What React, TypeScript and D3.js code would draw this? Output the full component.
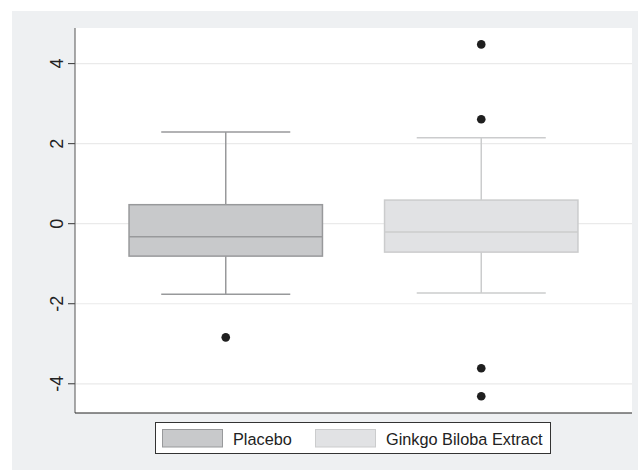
import React from "react";
import * as d3 from "d3";

const categories = ["Placebo", "Ginkgo Biloba Extract"];
const q1 = [-0.81, -0.71];
const medians = [-0.325, -0.21];
const q3 = [0.475, 0.59];
const whiskerLow = [-1.76, -1.73];
const whiskerHigh = [2.29, 2.15];
const outliers = [[-2.84], [4.48, 2.61, -3.61, -4.31]];
const yTicks = [-4, -2, 0, 2, 4];

const fills = ["#c8c9cb", "#e1e2e4"];
const strokes = ["#98999b", "#cbcccd"];

const W = 638, H = 470;
const left = 75, right = 632, top = 28, bottom = 413;

export default function App() {
  const y = d3.scaleLinear().domain([-4.73, 4.89]).range([bottom, top]);
  const x = d3.scalePoint<string>().domain(categories).range([left, right]).padding(0.59);
  const step = x.step();
  const boxW = step * 0.757;
  const capW = step * 0.505;
  const font = "'Liberation Sans', Arial, sans-serif";

  return (
    <svg width={W} height={H} style={{ position: "absolute", left: 0, top: 0 }}>
      <rect x={12} y={11} width={W - 12} height={H - 11} fill="#eef0f2" />
      <rect x={left} y={top} width={right - left} height={bottom - top} fill="#ffffff" />
      {yTicks.map((t) => (
        <g key={t}>
          <line x1={left} x2={right} y1={y(t)} y2={y(t)} stroke="#eaeaea" strokeWidth={1.2} />
          <line x1={68} x2={left} y1={y(t)} y2={y(t)} stroke="#333" strokeWidth={1} />
          <text
            transform={`translate(63,${y(t)}) rotate(-90)`}
            textAnchor="middle"
            fontFamily={font}
            fontSize={18}
            fill="#222"
          >
            {t}
          </text>
        </g>
      ))}
      {categories.map((c, i) => {
        const cx = x(c)!;
        return (
          <g key={c}>
            <line x1={cx} x2={cx} y1={y(q3[i])} y2={y(whiskerHigh[i])} stroke={strokes[i]} strokeWidth={1.5} />
            <line x1={cx} x2={cx} y1={y(q1[i])} y2={y(whiskerLow[i])} stroke={strokes[i]} strokeWidth={1.5} />
            <line x1={cx - capW / 2} x2={cx + capW / 2} y1={y(whiskerHigh[i])} y2={y(whiskerHigh[i])} stroke={strokes[i]} strokeWidth={1.5} />
            <line x1={cx - capW / 2} x2={cx + capW / 2} y1={y(whiskerLow[i])} y2={y(whiskerLow[i])} stroke={strokes[i]} strokeWidth={1.5} />
            <rect
              x={cx - boxW / 2}
              y={y(q3[i])}
              width={boxW}
              height={y(q1[i]) - y(q3[i])}
              fill={fills[i]}
              stroke={strokes[i]}
              strokeWidth={1.5}
            />
            <line x1={cx - boxW / 2} x2={cx + boxW / 2} y1={y(medians[i])} y2={y(medians[i])} stroke={strokes[i]} strokeWidth={1.5} />
            {outliers[i].map((o, j) => (
              <circle key={j} cx={cx} cy={y(o)} r={4.3} fill="#1f1f1f" />
            ))}
          </g>
        );
      })}
      <line x1={left} x2={left} y1={top} y2={bottom} stroke="#555" strokeWidth={1} />
      <line x1={left} x2={right} y1={bottom} y2={bottom} stroke="#222" strokeWidth={1.2} />
      <rect x={155.5} y={422.5} width={395} height={31} fill="#ffffff" stroke="#333" strokeWidth={1} />
      {categories.map((c, i) => {
        const sx = [162, 315][i];
        const tx = [233, 386][i];
        return (
          <g key={c}>
            <rect x={sx + 0.5} y={429.5} width={60} height={17.5} fill={fills[i]} stroke={strokes[i]} strokeWidth={1} />
            <text x={tx} y={444.5} fontFamily={font} fontSize={16.3} fill="#222">
              {c}
            </text>
          </g>
        );
      })}
    </svg>
  );
}
